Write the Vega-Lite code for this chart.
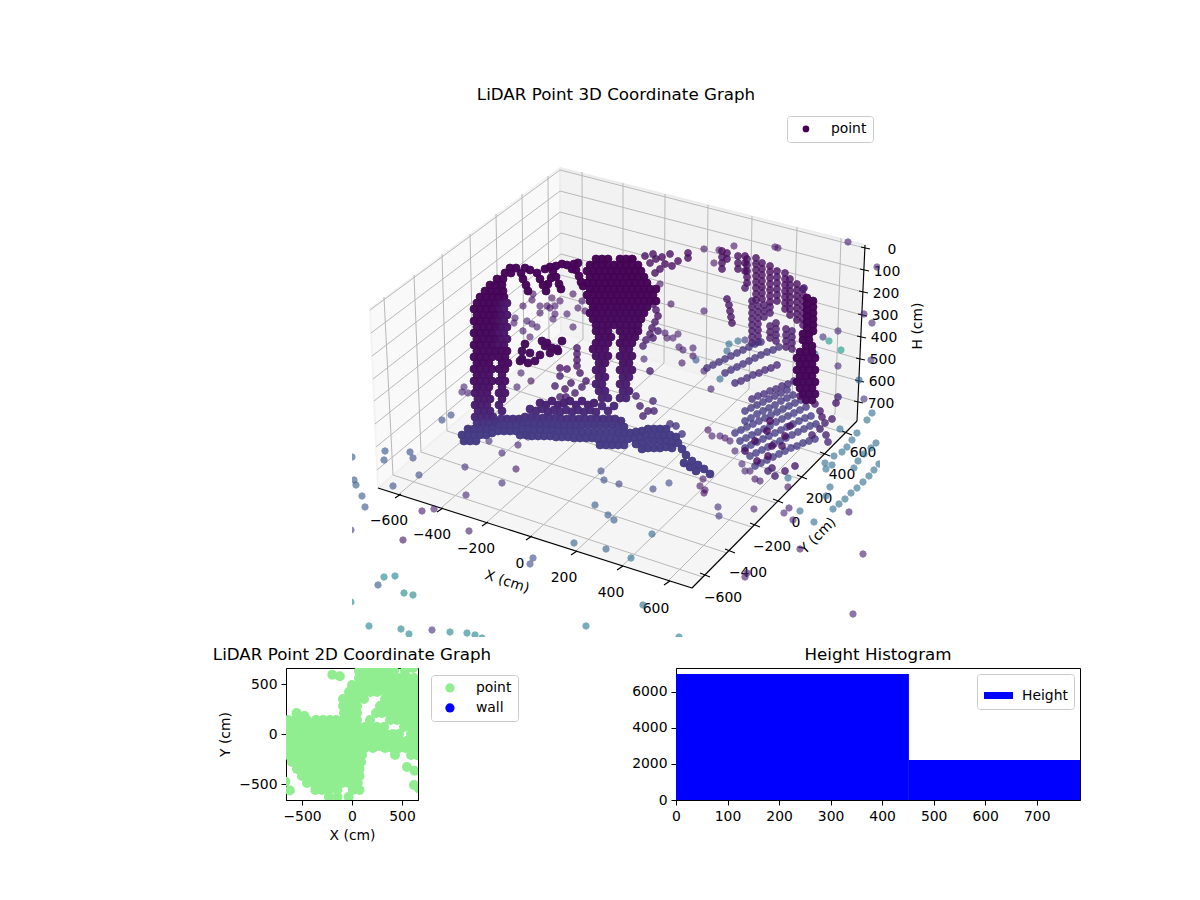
{"$schema":"https://vega.github.io/schema/vega-lite/v6.json","padding":{"left":212,"top":87,"right":5,"bottom":5},"spacing":9,"config":{"font":"DejaVu Sans","view":{"stroke":null},"axis":{"grid":false,"domainColor":"black","tickColor":"black","labelColor":"black","titleColor":"black","labelFontSize":13.9,"titleFontSize":13.9,"titleFontWeight":"normal","tickSize":5,"labelPadding":4,"titlePadding":6,"labelFlush":false},"legend":{"labelFontSize":13.9,"fillColor":"white","strokeColor":"#cccccc","cornerRadius":3,"padding":6,"title":null},"title":{"fontSize":16.7,"fontWeight":"normal","color":"black"}},
"vconcat":[{"bounds":"flush","spacing":0,"resolve":{"scale":{"shape":"independent"},"legend":{"shape":"independent"}},"hconcat":[{"width":66,"height":528,"data":{"values":[{"s":1}]},"mark":{"type":"point","opacity":0},"encoding":{}},
{"width":528,"height":528,"title":{"text":"LiDAR Point 3D Coordinate Graph","offset":5},
"encoding":{"x":{"field":"x","type":"quantitative","scale":{"domain":[352,880],"nice":false,"zero":false},"axis":null},"y":{"field":"y","type":"quantitative","scale":{"domain":[636,108],"nice":false,"zero":false},"axis":null}},
"layer":[
{"data":{"values":[{"o":0,"x":370,"y":308},{"o":1,"x":560,"y":167},{"o":2,"x":561,"y":332},{"o":3,"x":378,"y":487},{"o":4,"x":370,"y":308}]},"mark":{"type":"line","fill":"#f9f9f9","stroke":"#f3f3f3"},"encoding":{"order":{"field":"o","type":"quantitative"}}},
{"data":{"values":[{"o":0,"x":560,"y":167},{"o":1,"x":865,"y":244},{"o":2,"x":857,"y":420},{"o":3,"x":561,"y":332},{"o":4,"x":560,"y":167}]},"mark":{"type":"line","fill":"#f2f2f2","stroke":"#ececec"},"encoding":{"order":{"field":"o","type":"quantitative"}}},
{"data":{"values":[{"o":0,"x":378,"y":487},{"o":1,"x":561,"y":332},{"o":2,"x":857,"y":420},{"o":3,"x":692,"y":587},{"o":4,"x":378,"y":487}]},"mark":{"type":"line","fill":"#f5f5f5","stroke":"#f0f0f0"},"encoding":{"order":{"field":"o","type":"quantitative"}}},
{"data":{"values":[{"x":370,"y":309,"x2":560,"y2":169},{"x":371,"y":332,"x2":560,"y2":190},{"x":372,"y":355,"x2":560,"y2":211},{"x":373,"y":378,"x2":561,"y2":232},{"x":374,"y":400,"x2":561,"y2":253},{"x":375,"y":423,"x2":561,"y2":274},{"x":376,"y":446,"x2":561,"y2":295},{"x":377,"y":469,"x2":561,"y2":316},
{"x":560,"y":169,"x2":865,"y2":247},{"x":560,"y":190,"x2":864,"y2":269},{"x":560,"y":211,"x2":863,"y2":291},{"x":561,"y":232,"x2":862,"y2":314},{"x":561,"y":253,"x2":861,"y2":336},{"x":561,"y":274,"x2":860,"y2":358},{"x":561,"y":295,"x2":859,"y2":380},{"x":561,"y":316,"x2":858,"y2":401},
{"x":384,"y":296,"x2":393,"y2":474},{"x":414,"y":274,"x2":421,"y2":451},{"x":442,"y":253,"x2":447,"y2":430},{"x":470,"y":233,"x2":474,"y2":405},{"x":496,"y":213,"x2":499,"y2":384},{"x":522,"y":193,"x2":524,"y2":363},{"x":548,"y":175,"x2":549,"y2":341},
{"x":582,"y":171,"x2":583,"y2":338},{"x":623,"y":182,"x2":623,"y2":350},{"x":665,"y":193,"x2":664,"y2":362},{"x":708,"y":204,"x2":706,"y2":375},{"x":752,"y":215,"x2":749,"y2":388},{"x":797,"y":226,"x2":792,"y2":401},{"x":841,"y":237,"x2":835,"y2":413},
{"x":393,"y":474,"x2":703,"y2":576},{"x":421,"y":451,"x2":727,"y2":552},{"x":447,"y":430,"x2":752,"y2":526},{"x":474,"y":405,"x2":776,"y2":502},{"x":499,"y":384,"x2":800,"y2":478},{"x":524,"y":363,"x2":823,"y2":454},{"x":549,"y":341,"x2":845,"y2":432},
{"x":583,"y":338,"x2":398,"y2":494},{"x":623,"y":350,"x2":441,"y2":507},{"x":664,"y":362,"x2":486,"y2":522},{"x":706,"y":375,"x2":530,"y2":536},{"x":749,"y":388,"x2":575,"y2":551},{"x":792,"y":401,"x2":621,"y2":566},{"x":835,"y":413,"x2":667,"y2":581}]},"mark":{"type":"rule","color":"#b8b8b8","strokeWidth":1},"encoding":{"x2":{"field":"x2"},"y2":{"field":"y2"}}},
{"data":{"values":[{"x":378,"y":487,"x2":692,"y2":587},{"x":692,"y":587,"x2":857,"y2":420},{"x":857,"y":420,"x2":865,"y2":244},
{"x":395,"y":497,"x2":401,"y2":493},{"x":437,"y":511,"x2":443,"y2":507},{"x":482,"y":525,"x2":488,"y2":521},{"x":526,"y":539,"x2":532,"y2":535},{"x":571,"y":554,"x2":577,"y2":550},{"x":617,"y":569,"x2":623,"y2":565},{"x":664,"y":584,"x2":670,"y2":580},
{"x":700,"y":572,"x2":710,"y2":576},{"x":725,"y":548,"x2":735,"y2":552},{"x":750,"y":522,"x2":760,"y2":526},{"x":773,"y":498,"x2":783,"y2":502},{"x":797,"y":474,"x2":807,"y2":478},{"x":820,"y":451,"x2":830,"y2":455},{"x":842,"y":430,"x2":852,"y2":434},
{"x":861,"y":246,"x2":870,"y2":248},{"x":860,"y":268,"x2":869,"y2":270},{"x":859,"y":290,"x2":868,"y2":292},{"x":858,"y":313,"x2":867,"y2":315},{"x":857,"y":335,"x2":866,"y2":337},{"x":856,"y":357,"x2":865,"y2":359},{"x":855,"y":379,"x2":864,"y2":381},{"x":854,"y":400,"x2":863,"y2":402}]},"mark":{"type":"rule","color":"black","strokeWidth":1.1},"encoding":{"x2":{"field":"x2"},"y2":{"field":"y2"}}},
{"data":{"values":[{"x":389,"y":520,"t":"−600"},{"x":432,"y":534,"t":"−400"},{"x":476,"y":548,"t":"−200"},{"x":520,"y":563,"t":"0"},{"x":564,"y":577,"t":"200"},{"x":611,"y":592,"t":"400"},{"x":656,"y":608,"t":"600"},{"x":723,"y":597,"t":"−600"},{"x":748,"y":572,"t":"−400"},{"x":772,"y":546,"t":"−200"},{"x":796,"y":522,"t":"0"},{"x":819,"y":498,"t":"200"},{"x":842,"y":474,"t":"400"},{"x":863,"y":452,"t":"600"},{"x":892,"y":249,"t":"0"},{"x":887,"y":271,"t":"100"},{"x":886,"y":293,"t":"200"},{"x":885,"y":315,"t":"300"},{"x":884,"y":337,"t":"400"},{"x":883,"y":359,"t":"500"},{"x":882,"y":381,"t":"600"},{"x":881,"y":403,"t":"700"},{"x":507,"y":581,"t":"X (cm)","a":18},{"x":818,"y":535,"t":"Y (cm)","a":-45},{"x":918,"y":325,"t":"H (cm)","a":-90}]},"mark":{"type":"text","fontSize":13.9,"color":"black","baseline":"middle","align":"center"},"encoding":{"text":{"field":"t"},"angle":{"field":"a","type":"quantitative","scale":null}}},
{"data":{"values":[{"x":352,"y":456,"h":1000},{"x":354,"y":479,"h":1000},{"x":356,"y":484,"h":1000},{"x":362,"y":495,"h":1000},{"x":365,"y":506,"h":900},{"x":385,"y":450,"h":900},{"x":384,"y":459,"h":900},{"x":410,"y":451,"h":800},{"x":413,"y":457,"h":800},{"x":419,"y":474,"h":800},{"x":393,"y":485,"h":800},{"x":442,"y":419,"h":800},{"x":451,"y":414,"h":800},{"x":465,"y":466,"h":500},{"x":502,"y":452,"h":400},{"x":516,"y":468,"h":200},{"x":502,"y":482,"h":500},{"x":466,"y":494,"h":400},{"x":422,"y":510,"h":250},{"x":434,"y":508,"h":300},{"x":469,"y":530,"h":300},{"x":403,"y":539,"h":200},{"x":351,"y":529,"h":600},{"x":533,"y":557,"h":800},{"x":530,"y":563,"h":800},{"x":378,"y":584,"h":900},{"x":384,"y":576,"h":1600},{"x":395,"y":575,"h":1600},{"x":404,"y":592,"h":1600},{"x":413,"y":594,"h":1600},{"x":351,"y":601,"h":1600},{"x":369,"y":625,"h":1600},{"x":401,"y":628,"h":1600},{"x":409,"y":633,"h":1600},{"x":432,"y":629,"h":500},{"x":450,"y":631,"h":1600},{"x":467,"y":632,"h":1600},{"x":475,"y":634,"h":1600},{"x":482,"y":637,"h":1600},{"x":586,"y":625,"h":1400},{"x":518,"y":444,"h":300},{"x":528,"y":436,"h":300},{"x":489,"y":440,"h":500},{"x":595,"y":504,"h":1000},{"x":608,"y":514,"h":1000},{"x":614,"y":519,"h":1000},{"x":604,"y":479,"h":800},{"x":601,"y":470,"h":800},{"x":574,"y":542,"h":1100},{"x":606,"y":548,"h":1100},{"x":619,"y":483,"h":700},{"x":653,"y":488,"h":700},{"x":669,"y":482,"h":800},{"x":703,"y":478,"h":200},{"x":700,"y":485,"h":200},{"x":705,"y":489,"h":200},{"x":704,"y":492,"h":150},{"x":718,"y":506,"h":500},{"x":719,"y":515,"h":600},{"x":754,"y":508,"h":300},{"x":652,"y":533,"h":1200},{"x":631,"y":557,"h":1300},{"x":643,"y":604,"h":1300},{"x":679,"y":636,"h":1500},{"x":853,"y":613,"h":300},{"x":863,"y":553,"h":300},{"x":849,"y":511,"h":300},{"x":745,"y":576,"h":250},{"x":747,"y":572,"h":250},{"x":800,"y":548,"h":300},{"x":784,"y":512,"h":400},{"x":789,"y":507,"h":300},{"x":793,"y":519,"h":400},{"x":800,"y":510,"h":1250},{"x":814,"y":521,"h":1250},{"x":833,"y":508,"h":1250},{"x":839,"y":503,"h":1250},{"x":845,"y":498,"h":1250},{"x":851,"y":492,"h":1250},{"x":857,"y":487,"h":1250},{"x":863,"y":481,"h":1250},{"x":869,"y":475,"h":1250},{"x":874,"y":469,"h":1250},{"x":879,"y":463,"h":1250},{"x":825,"y":462,"h":1250},{"x":832,"y":464,"h":1250},{"x":826,"y":468,"h":1250},{"x":834,"y":455,"h":1250},{"x":842,"y":451,"h":1250},{"x":847,"y":446,"h":1250},{"x":852,"y":439,"h":1250},{"x":857,"y":432,"h":1250},{"x":876,"y":442,"h":1250},{"x":871,"y":447,"h":1250},{"x":864,"y":453,"h":1250},{"x":858,"y":460,"h":1250},{"x":854,"y":467,"h":1250},{"x":840,"y":428,"h":1250},{"x":830,"y":486,"h":1250},{"x":826,"y":495,"h":1250},{"x":788,"y":477,"h":1250},{"x":872,"y":412,"h":1250},{"x":867,"y":419,"h":1250},{"x":788,"y":486,"h":200},
{"x":848,"y":241,"h":300},{"x":877,"y":266,"h":400},{"x":864,"y":313,"h":400},{"x":872,"y":322,"h":400},{"x":823,"y":336,"h":500},{"x":829,"y":340,"h":1900},{"x":841,"y":349,"h":1900},{"x":838,"y":330,"h":400},{"x":838,"y":365,"h":400},{"x":871,"y":359,"h":600},{"x":859,"y":379,"h":1100},{"x":864,"y":398,"h":500},{"x":815,"y":353,"h":1700},{"x":704,"y":248,"h":200},{"x":719,"y":249,"h":200},{"x":734,"y":245,"h":200},{"x":775,"y":246,"h":200},{"x":778,"y":247,"h":200},{"x":714,"y":262,"h":200},{"x":671,"y":303,"h":150},{"x":704,"y":310,"h":250},{"x":660,"y":283,"h":200},{"x":682,"y":362,"h":200},{"x":644,"y":358,"h":300},{"x":693,"y":347,"h":300},{"x":683,"y":349,"h":300},{"x":679,"y":346,"h":300},{"x":693,"y":355,"h":200},{"x":696,"y":359,"h":900},{"x":704,"y":370,"h":300},{"x":711,"y":388,"h":300},{"x":729,"y":343,"h":1250},{"x":738,"y":340,"h":1250},{"x":745,"y":339,"h":500},{"x":727,"y":350,"h":1100},{"x":720,"y":378,"h":1200},{"x":665,"y":332,"h":250},{"x":667,"y":337,"h":250},{"x":673,"y":337,"h":250},{"x":678,"y":333,"h":250},
{"x":523,"y":305,"h":200},{"x":540,"y":305,"h":200},{"x":550,"y":307,"h":200},{"x":555,"y":313,"h":200},{"x":567,"y":313,"h":250},{"x":515,"y":317,"h":250},{"x":514,"y":322,"h":250},{"x":527,"y":320,"h":250},{"x":532,"y":323,"h":250},{"x":537,"y":326,"h":250},{"x":523,"y":330,"h":250},{"x":530,"y":336,"h":250},{"x":573,"y":326,"h":250},{"x":595,"y":308,"h":250},{"x":596,"y":317,"h":250},{"x":553,"y":318,"h":250},{"x":540,"y":312,"h":200},{"x":552,"y":297,"h":200},{"x":560,"y":300,"h":200},{"x":573,"y":293,"h":200},{"x":582,"y":300,"h":200},{"x":578,"y":307,"h":200},{"x":585,"y":310,"h":200},{"x":533,"y":293,"h":150},{"x":532,"y":299,"h":150},{"x":555,"y":305,"h":200},{"x":547,"y":305,"h":200},{"x":521,"y":372,"h":300},{"x":531,"y":380,"h":100},{"x":517,"y":386,"h":300},{"x":464,"y":386,"h":400},{"x":462,"y":391,"h":400},{"x":468,"y":392,"h":400},{"x":708,"y":429,"h":200},{"x":712,"y":435,"h":300},{"x":720,"y":435,"h":300},{"x":725,"y":437,"h":200},{"x":730,"y":440,"h":300},{"x":735,"y":450,"h":350},{"x":742,"y":463,"h":400},{"x":750,"y":470,"h":300},{"x":755,"y":478,"h":200},{"x":760,"y":480,"h":250},{"x":745,"y":470,"h":400}]},"mark":{"type":"point","filled":true,"size":40,"opacity":0.62,"clip":true},"encoding":{"fill":{"field":"h","type":"quantitative","scale":{"scheme":"viridis","domain":[0,3500]},"legend":null},"stroke":{"field":"h","type":"quantitative","scale":{"scheme":"viridis","domain":[0,3500]},"legend":null},"strokeWidth":{"value":1}}},
{"data":{"values":[{"x":653,"y":253,"h":100},{"x":645,"y":255,"h":100},{"x":670,"y":253,"h":100},{"x":688,"y":252,"h":100},{"x":688,"y":257,"h":100},{"x":678,"y":260,"h":100},{"x":672,"y":265,"h":100},{"x":633,"y":258,"h":100},{"x":665,"y":263,"h":100},{"x":660,"y":268,"h":100},{"x":655,"y":272,"h":100},{"x":650,"y":262,"h":100},{"x":656,"y":258,"h":100},{"x":662,"y":256,"h":100},
{"x":560,"y":367,"h":200},{"x":567,"y":368,"h":200},{"x":560,"y":375,"h":300},{"x":577,"y":347,"h":200},{"x":577,"y":353,"h":200},{"x":577,"y":359,"h":200},{"x":577,"y":365,"h":200},{"x":580,"y":372,"h":200},{"x":571,"y":382,"h":200},{"x":565,"y":388,"h":200},{"x":560,"y":396,"h":300},{"x":555,"y":385,"h":300},{"x":566,"y":396,"h":200},{"x":575,"y":392,"h":300},{"x":582,"y":386,"h":300},{"x":586,"y":380,"h":200},
{"x":722,"y":250,"h":100},{"x":722,"y":256,"h":100},{"x":722,"y":262,"h":100},{"x":722,"y":268,"h":100},{"x":727,"y":252,"h":100},{"x":727,"y":258,"h":100},{"x":738,"y":255,"h":100},{"x":738,"y":262,"h":100},{"x":738,"y":268,"h":100},{"x":745,"y":255,"h":100},{"x":745,"y":262,"h":100},{"x":745,"y":270,"h":100},{"x":747,"y":258,"h":100},{"x":747,"y":264,"h":100},{"x":747,"y":270,"h":100},{"x":747,"y":276,"h":100},{"x":747,"y":282,"h":100},{"x":745,"y":287,"h":200},
{"x":756,"y":257,"h":100},{"x":756,"y":263,"h":100},{"x":756,"y":269,"h":100},{"x":756,"y":275,"h":100},{"x":756,"y":281,"h":100},{"x":756,"y":287,"h":100},{"x":756,"y":293,"h":100},{"x":756,"y":299,"h":100},{"x":762,"y":262,"h":100},{"x":762,"y":268,"h":100},{"x":762,"y":274,"h":100},{"x":762,"y":280,"h":100},{"x":762,"y":286,"h":100},{"x":762,"y":292,"h":100},{"x":762,"y":298,"h":100},{"x":770,"y":265,"h":100},{"x":770,"y":271,"h":100},{"x":770,"y":277,"h":100},{"x":770,"y":283,"h":100},{"x":770,"y":289,"h":100},{"x":770,"y":295,"h":100},{"x":770,"y":301,"h":100},{"x":777,"y":270,"h":100},{"x":777,"y":276,"h":100},{"x":777,"y":282,"h":100},{"x":777,"y":288,"h":100},{"x":777,"y":294,"h":100},{"x":777,"y":300,"h":100},{"x":785,"y":272,"h":100},{"x":785,"y":278,"h":100},{"x":785,"y":284,"h":100},{"x":785,"y":290,"h":100},{"x":785,"y":296,"h":100},{"x":785,"y":302,"h":100},{"x":785,"y":308,"h":100},{"x":790,"y":278,"h":100},{"x":790,"y":284,"h":100},{"x":790,"y":290,"h":100},{"x":790,"y":296,"h":100},{"x":790,"y":302,"h":100},{"x":790,"y":308,"h":100},{"x":790,"y":314,"h":100},{"x":797,"y":283,"h":100},{"x":797,"y":289,"h":100},{"x":797,"y":295,"h":100},{"x":797,"y":301,"h":100},{"x":797,"y":307,"h":100},{"x":797,"y":313,"h":100},{"x":797,"y":319,"h":100},{"x":803,"y":288,"h":100},{"x":803,"y":294,"h":100},{"x":803,"y":300,"h":100},{"x":803,"y":306,"h":100},{"x":803,"y":312,"h":100},{"x":803,"y":318,"h":100},{"x":803,"y":324,"h":100},{"x":804,"y":287,"h":300},
{"x":727,"y":298,"h":150},{"x":729,"y":304,"h":150},{"x":730,"y":310,"h":150},{"x":731,"y":316,"h":150},{"x":732,"y":322,"h":150},
{"x":752,"y":300,"h":200},{"x":752,"y":306,"h":200},{"x":752,"y":312,"h":200},{"x":752,"y":318,"h":200},{"x":752,"y":324,"h":200},{"x":752,"y":330,"h":200},{"x":752,"y":336,"h":200},{"x":752,"y":342,"h":200},{"x":758,"y":305,"h":200},{"x":758,"y":311,"h":200},{"x":758,"y":317,"h":200},{"x":758,"y":323,"h":200},{"x":758,"y":329,"h":200},{"x":758,"y":335,"h":200},{"x":758,"y":341,"h":200},{"x":764,"y":304,"h":200},{"x":764,"y":310,"h":200},{"x":764,"y":316,"h":200},{"x":770,"y":306,"h":200},{"x":770,"y":312,"h":200},{"x":770,"y":325,"h":200},{"x":770,"y":331,"h":200},{"x":770,"y":337,"h":200},{"x":776,"y":322,"h":200},{"x":776,"y":328,"h":200},{"x":776,"y":334,"h":200},{"x":776,"y":340,"h":200},{"x":786,"y":328,"h":200},{"x":786,"y":334,"h":200},{"x":786,"y":340,"h":200},{"x":786,"y":346,"h":200},{"x":792,"y":330,"h":200},{"x":792,"y":336,"h":200},{"x":792,"y":342,"h":200},{"x":792,"y":348,"h":200},
{"x":707,"y":367,"h":500},{"x":713,"y":364,"h":500},{"x":719,"y":361,"h":500},{"x":725,"y":358,"h":500},{"x":731,"y":355,"h":500},{"x":737,"y":352,"h":500},{"x":743,"y":349,"h":500},{"x":749,"y":346,"h":500},{"x":755,"y":343,"h":500},{"x":761,"y":341,"h":500},{"x":725,"y":372,"h":500},{"x":731,"y":369,"h":500},{"x":737,"y":366,"h":500},{"x":743,"y":363,"h":500},{"x":749,"y":360,"h":500},{"x":755,"y":357,"h":500},{"x":761,"y":354,"h":500},{"x":767,"y":351,"h":500},{"x":773,"y":349,"h":500},{"x":779,"y":346,"h":500},{"x":735,"y":382,"h":450},{"x":741,"y":380,"h":450},{"x":747,"y":377,"h":450},{"x":753,"y":374,"h":450},{"x":759,"y":372,"h":400},{"x":765,"y":369,"h":400},{"x":771,"y":367,"h":400},{"x":777,"y":364,"h":400},{"x":752,"y":398,"h":450},{"x":758,"y":395,"h":450},{"x":764,"y":393,"h":450},{"x":770,"y":390,"h":450},{"x":776,"y":388,"h":450},{"x":782,"y":385,"h":400},{"x":788,"y":383,"h":400},{"x":794,"y":380,"h":400},
{"x":745,"y":410,"h":550},{"x":751,"y":407,"h":550},{"x":757,"y":404,"h":550},{"x":763,"y":401,"h":550},{"x":769,"y":398,"h":500},{"x":775,"y":395,"h":500},{"x":781,"y":392,"h":500},{"x":787,"y":389,"h":500},{"x":745,"y":420,"h":600},{"x":751,"y":417,"h":600},{"x":757,"y":413,"h":600},{"x":763,"y":410,"h":600},{"x":769,"y":407,"h":600},{"x":775,"y":404,"h":550},{"x":781,"y":400,"h":550},{"x":787,"y":397,"h":550},{"x":793,"y":394,"h":550},{"x":735,"y":432,"h":600},{"x":741,"y":429,"h":600},{"x":747,"y":426,"h":600},{"x":753,"y":423,"h":600},{"x":759,"y":420,"h":600},{"x":765,"y":417,"h":600},{"x":771,"y":414,"h":600},{"x":777,"y":411,"h":600},{"x":783,"y":408,"h":600},{"x":789,"y":405,"h":600},{"x":795,"y":402,"h":550},{"x":801,"y":399,"h":550},{"x":740,"y":440,"h":600},{"x":746,"y":437,"h":600},{"x":752,"y":434,"h":600},{"x":758,"y":431,"h":600},{"x":764,"y":428,"h":600},{"x":770,"y":425,"h":600},{"x":776,"y":421,"h":600},{"x":782,"y":418,"h":600},{"x":788,"y":415,"h":600},{"x":794,"y":412,"h":600},{"x":800,"y":409,"h":600},{"x":806,"y":406,"h":550},{"x":745,"y":447,"h":600},{"x":751,"y":444,"h":600},{"x":757,"y":441,"h":600},{"x":763,"y":438,"h":600},{"x":769,"y":435,"h":600},{"x":775,"y":432,"h":600},{"x":781,"y":429,"h":600},{"x":787,"y":426,"h":600},{"x":793,"y":423,"h":600},{"x":799,"y":420,"h":600},{"x":805,"y":417,"h":600},{"x":811,"y":415,"h":600},{"x":750,"y":455,"h":600},{"x":756,"y":452,"h":600},{"x":762,"y":449,"h":600},{"x":768,"y":446,"h":600},{"x":774,"y":443,"h":600},{"x":780,"y":440,"h":600},{"x":786,"y":437,"h":600},{"x":792,"y":434,"h":600},{"x":798,"y":431,"h":600},{"x":804,"y":428,"h":600},{"x":810,"y":425,"h":600},{"x":816,"y":423,"h":600},{"x":755,"y":465,"h":600},{"x":761,"y":462,"h":600},{"x":767,"y":459,"h":600},{"x":773,"y":456,"h":600},{"x":779,"y":453,"h":600},{"x":785,"y":450,"h":600},{"x":791,"y":447,"h":600},{"x":797,"y":445,"h":600},{"x":803,"y":442,"h":600},{"x":809,"y":440,"h":600},{"x":815,"y":438,"h":600},
{"x":745,"y":450,"h":100},{"x":757,"y":460,"h":100},{"x":772,"y":445,"h":100},{"x":768,"y":455,"h":100},{"x":785,"y":435,"h":100},{"x":790,"y":425,"h":100},{"x":767,"y":430,"h":100},{"x":770,"y":420,"h":100},{"x":755,"y":440,"h":100},{"x":782,"y":445,"h":150},{"x":800,"y":395,"h":100},{"x":768,"y":470,"h":300},{"x":775,"y":475,"h":300},{"x":785,"y":470,"h":200},{"x":795,"y":465,"h":200},{"x":772,"y":467,"h":300},{"x":815,"y":403,"h":200},{"x":820,"y":410,"h":200},{"x":822,"y":416,"h":200},{"x":825,"y":422,"h":300},{"x":820,"y":428,"h":300},{"x":826,"y":434,"h":300},{"x":828,"y":441,"h":400},{"x":812,"y":434,"h":300},{"x":832,"y":418,"h":300},{"x":836,"y":402,"h":200},{"x":838,"y":396,"h":400},
{"x":648,"y":410,"h":300},{"x":640,"y":405,"h":300},{"x":654,"y":410,"h":300},{"x":636,"y":395,"h":300},{"x":670,"y":423,"h":500},{"x":676,"y":425,"h":500},{"x":682,"y":433,"h":500},{"x":653,"y":400,"h":400},{"x":643,"y":415,"h":300},{"x":650,"y":370,"h":300},{"x":653,"y":303,"h":150},{"x":656,"y":309,"h":150},{"x":658,"y":315,"h":150},{"x":655,"y":321,"h":200},{"x":652,"y":327,"h":200},{"x":650,"y":333,"h":250},{"x":646,"y":339,"h":250},{"x":643,"y":345,"h":300},{"x":658,"y":330,"h":250},{"x":653,"y":337,"h":250}]},"mark":{"type":"point","filled":true,"size":46,"opacity":0.78,"clip":true},"encoding":{"fill":{"field":"h","type":"quantitative","scale":{"scheme":"viridis","domain":[0,3500]},"legend":null},"stroke":{"field":"h","type":"quantitative","scale":{"scheme":"viridis","domain":[0,3500]},"legend":null},"strokeWidth":{"value":1}}},
{"data":{"values":[{"x":510,"y":267,"h":30},{"x":516,"y":267,"h":30},{"x":505,"y":272,"h":30},{"x":511,"y":272,"h":30},{"x":497,"y":278,"h":30},{"x":503,"y":278,"h":30},{"x":490,"y":284,"h":30},{"x":496,"y":284,"h":30},{"x":502,"y":284,"h":30},{"x":485,"y":290,"h":30},{"x":491,"y":290,"h":30},{"x":497,"y":290,"h":30},{"x":503,"y":290,"h":30},{"x":480,"y":296,"h":30},{"x":486,"y":296,"h":30},{"x":492,"y":296,"h":30},{"x":498,"y":296,"h":30},{"x":504,"y":296,"h":30},
{"x":477,"y":302,"h":40},{"x":483,"y":302,"h":40},{"x":489,"y":302,"h":40},{"x":495,"y":302,"h":40},{"x":501,"y":302,"h":100},{"x":507,"y":302,"h":200},{"x":474,"y":308,"h":40},{"x":480,"y":308,"h":40},{"x":486,"y":308,"h":40},{"x":492,"y":308,"h":40},{"x":498,"y":308,"h":100},{"x":504,"y":308,"h":200},{"x":477,"y":314,"h":40},{"x":483,"y":314,"h":40},{"x":489,"y":314,"h":40},{"x":495,"y":314,"h":40},{"x":501,"y":314,"h":120},{"x":507,"y":314,"h":200},{"x":474,"y":320,"h":40},{"x":480,"y":320,"h":40},{"x":486,"y":320,"h":40},{"x":492,"y":320,"h":40},{"x":498,"y":320,"h":120},{"x":504,"y":320,"h":200},{"x":477,"y":326,"h":50},{"x":483,"y":326,"h":50},{"x":489,"y":326,"h":50},{"x":495,"y":326,"h":50},{"x":501,"y":326,"h":150},{"x":507,"y":326,"h":200},{"x":474,"y":332,"h":50},{"x":480,"y":332,"h":50},{"x":486,"y":332,"h":50},{"x":492,"y":332,"h":50},{"x":498,"y":332,"h":150},{"x":504,"y":332,"h":200},{"x":477,"y":338,"h":60},{"x":483,"y":338,"h":60},{"x":489,"y":338,"h":60},{"x":495,"y":338,"h":60},{"x":501,"y":338,"h":150},{"x":507,"y":338,"h":200},{"x":474,"y":344,"h":60},{"x":480,"y":344,"h":60},{"x":486,"y":344,"h":60},{"x":492,"y":344,"h":60},{"x":498,"y":344,"h":150},{"x":504,"y":344,"h":150},{"x":477,"y":350,"h":70},{"x":483,"y":350,"h":70},{"x":489,"y":350,"h":70},{"x":495,"y":350,"h":70},{"x":501,"y":350,"h":70},{"x":507,"y":350,"h":70},
{"x":474,"y":356,"h":80},{"x":480,"y":356,"h":80},{"x":486,"y":356,"h":80},{"x":492,"y":356,"h":80},{"x":499,"y":356,"h":80},{"x":505,"y":356,"h":80},{"x":477,"y":362,"h":80},{"x":483,"y":362,"h":80},{"x":489,"y":362,"h":80},{"x":502,"y":362,"h":80},{"x":508,"y":362,"h":80},{"x":474,"y":368,"h":100},{"x":480,"y":368,"h":100},{"x":486,"y":368,"h":100},{"x":492,"y":368,"h":100},{"x":499,"y":368,"h":100},{"x":505,"y":368,"h":100},{"x":477,"y":374,"h":120},{"x":483,"y":374,"h":120},{"x":489,"y":374,"h":120},{"x":502,"y":374,"h":120},{"x":474,"y":380,"h":140},{"x":480,"y":380,"h":140},{"x":486,"y":380,"h":140},{"x":492,"y":380,"h":140},{"x":499,"y":380,"h":140},{"x":505,"y":380,"h":140},{"x":477,"y":386,"h":160},{"x":483,"y":386,"h":160},{"x":489,"y":386,"h":160},{"x":502,"y":386,"h":160},{"x":475,"y":392,"h":180},{"x":481,"y":392,"h":180},{"x":487,"y":392,"h":180},{"x":499,"y":392,"h":180},{"x":505,"y":392,"h":180},{"x":478,"y":398,"h":220},{"x":484,"y":398,"h":220},{"x":490,"y":398,"h":220},{"x":502,"y":398,"h":220},{"x":475,"y":404,"h":260},{"x":481,"y":404,"h":260},{"x":487,"y":404,"h":260},{"x":499,"y":404,"h":260},{"x":478,"y":410,"h":300},{"x":484,"y":410,"h":300},{"x":490,"y":410,"h":300},{"x":502,"y":410,"h":300},{"x":475,"y":416,"h":350},{"x":481,"y":416,"h":350},{"x":487,"y":416,"h":350},{"x":493,"y":416,"h":350},
{"x":525,"y":267,"h":30},{"x":530,"y":269,"h":30},{"x":545,"y":268,"h":30},{"x":550,"y":266,"h":30},{"x":556,"y":265,"h":30},{"x":562,"y":263,"h":30},{"x":567,"y":264,"h":30},{"x":521,"y":272,"h":30},{"x":523,"y":278,"h":30},{"x":526,"y":284,"h":30},{"x":528,"y":290,"h":30},{"x":537,"y":272,"h":30},{"x":540,"y":278,"h":30},{"x":543,"y":284,"h":30},{"x":546,"y":290,"h":30},{"x":553,"y":270,"h":30},{"x":556,"y":276,"h":30},{"x":559,"y":283,"h":30},{"x":561,"y":288,"h":30},{"x":551,"y":277,"h":30},{"x":548,"y":283,"h":30},{"x":574,"y":263,"h":30},{"x":576,"y":269,"h":30},{"x":579,"y":275,"h":30},{"x":581,"y":281,"h":30},{"x":572,"y":268,"h":30},{"x":578,"y":262,"h":30},{"x":583,"y":285,"h":30},
{"x":542,"y":340,"h":80},{"x":547,"y":342,"h":80},{"x":552,"y":347,"h":80},{"x":558,"y":350,"h":80},{"x":562,"y":340,"h":80},{"x":557,"y":348,"h":80},{"x":545,"y":345,"h":80},{"x":550,"y":352,"h":80},{"x":525,"y":343,"h":80},{"x":522,"y":350,"h":80},{"x":522,"y":358,"h":80},{"x":528,"y":362,"h":80},{"x":535,"y":360,"h":80},{"x":540,"y":354,"h":80},{"x":530,"y":352,"h":80},{"x":520,"y":360,"h":80},
{"x":596,"y":258,"h":20},{"x":602,"y":258,"h":20},{"x":608,"y":258,"h":20},{"x":620,"y":258,"h":20},{"x":626,"y":258,"h":20},{"x":632,"y":258,"h":20},{"x":590,"y":264,"h":20},{"x":596,"y":264,"h":20},{"x":602,"y":264,"h":20},{"x":608,"y":264,"h":20},{"x":614,"y":264,"h":20},{"x":620,"y":264,"h":20},{"x":626,"y":264,"h":20},{"x":632,"y":264,"h":20},{"x":638,"y":264,"h":20},{"x":587,"y":270,"h":20},{"x":593,"y":270,"h":20},{"x":599,"y":270,"h":20},{"x":605,"y":270,"h":20},{"x":611,"y":270,"h":20},{"x":617,"y":270,"h":20},{"x":623,"y":270,"h":20},{"x":629,"y":270,"h":20},{"x":635,"y":270,"h":20},{"x":641,"y":270,"h":20},{"x":590,"y":276,"h":20},{"x":596,"y":276,"h":20},{"x":602,"y":276,"h":20},{"x":608,"y":276,"h":20},{"x":614,"y":276,"h":20},{"x":620,"y":276,"h":20},{"x":626,"y":276,"h":20},{"x":632,"y":276,"h":20},{"x":638,"y":276,"h":20},{"x":644,"y":276,"h":20},{"x":587,"y":282,"h":20},{"x":593,"y":282,"h":20},{"x":599,"y":282,"h":20},{"x":605,"y":282,"h":20},{"x":611,"y":282,"h":20},{"x":617,"y":282,"h":20},{"x":623,"y":282,"h":20},{"x":629,"y":282,"h":20},{"x":635,"y":282,"h":20},{"x":641,"y":282,"h":20},{"x":647,"y":282,"h":20},{"x":590,"y":288,"h":20},{"x":596,"y":288,"h":20},{"x":602,"y":288,"h":20},{"x":608,"y":288,"h":20},{"x":614,"y":288,"h":20},{"x":620,"y":288,"h":20},{"x":626,"y":288,"h":20},{"x":632,"y":288,"h":20},{"x":638,"y":288,"h":20},{"x":644,"y":288,"h":20},{"x":650,"y":288,"h":20},{"x":656,"y":288,"h":20},{"x":587,"y":294,"h":30},{"x":593,"y":294,"h":30},{"x":599,"y":294,"h":30},{"x":605,"y":294,"h":30},{"x":611,"y":294,"h":30},{"x":617,"y":294,"h":30},{"x":623,"y":294,"h":30},{"x":629,"y":294,"h":30},{"x":635,"y":294,"h":30},{"x":641,"y":294,"h":30},{"x":647,"y":294,"h":30},{"x":653,"y":294,"h":30},{"x":590,"y":300,"h":30},{"x":596,"y":300,"h":30},{"x":602,"y":300,"h":30},{"x":608,"y":300,"h":30},{"x":614,"y":300,"h":30},{"x":620,"y":300,"h":30},{"x":626,"y":300,"h":30},{"x":632,"y":300,"h":30},{"x":638,"y":300,"h":30},{"x":644,"y":300,"h":30},{"x":650,"y":300,"h":30},{"x":656,"y":300,"h":30},{"x":593,"y":306,"h":40},{"x":599,"y":306,"h":40},{"x":605,"y":306,"h":40},{"x":611,"y":306,"h":40},{"x":617,"y":306,"h":40},{"x":623,"y":306,"h":40},{"x":629,"y":306,"h":40},{"x":635,"y":306,"h":40},{"x":641,"y":306,"h":40},{"x":647,"y":306,"h":40},{"x":590,"y":312,"h":50},{"x":596,"y":312,"h":50},{"x":602,"y":312,"h":50},{"x":608,"y":312,"h":50},{"x":614,"y":312,"h":50},{"x":620,"y":312,"h":50},{"x":626,"y":312,"h":50},{"x":632,"y":312,"h":50},{"x":638,"y":312,"h":50},{"x":644,"y":312,"h":50},{"x":593,"y":318,"h":60},{"x":599,"y":318,"h":60},{"x":605,"y":318,"h":60},{"x":611,"y":318,"h":60},{"x":617,"y":318,"h":60},{"x":623,"y":318,"h":60},{"x":629,"y":318,"h":60},{"x":635,"y":318,"h":60},{"x":641,"y":318,"h":60},{"x":596,"y":324,"h":70},{"x":602,"y":324,"h":70},{"x":608,"y":324,"h":70},{"x":614,"y":324,"h":70},{"x":620,"y":324,"h":70},{"x":626,"y":324,"h":70},{"x":632,"y":324,"h":70},{"x":638,"y":324,"h":70},{"x":596,"y":330,"h":80},{"x":602,"y":330,"h":80},{"x":608,"y":330,"h":80},{"x":620,"y":330,"h":80},{"x":626,"y":330,"h":80},{"x":632,"y":330,"h":80},{"x":638,"y":330,"h":80},{"x":599,"y":336,"h":90},{"x":605,"y":336,"h":90},{"x":611,"y":336,"h":90},{"x":623,"y":336,"h":90},{"x":629,"y":336,"h":90},{"x":635,"y":336,"h":90},{"x":596,"y":342,"h":100},{"x":602,"y":342,"h":100},{"x":608,"y":342,"h":100},{"x":620,"y":342,"h":100},{"x":626,"y":342,"h":100},{"x":632,"y":342,"h":100},{"x":593,"y":348,"h":120},{"x":599,"y":348,"h":120},{"x":605,"y":348,"h":120},{"x":623,"y":348,"h":120},{"x":629,"y":348,"h":120},{"x":596,"y":355,"h":140},{"x":602,"y":355,"h":140},{"x":608,"y":355,"h":140},{"x":620,"y":355,"h":140},{"x":626,"y":355,"h":140},{"x":632,"y":355,"h":140},{"x":599,"y":362,"h":160},{"x":605,"y":362,"h":160},{"x":623,"y":362,"h":160},{"x":629,"y":362,"h":160},{"x":596,"y":369,"h":180},{"x":602,"y":369,"h":180},{"x":620,"y":369,"h":180},{"x":626,"y":369,"h":180},{"x":632,"y":369,"h":180},{"x":599,"y":376,"h":220},{"x":605,"y":376,"h":220},{"x":623,"y":376,"h":220},{"x":629,"y":376,"h":220},{"x":596,"y":383,"h":260},{"x":602,"y":383,"h":260},{"x":620,"y":383,"h":260},{"x":626,"y":383,"h":260},{"x":599,"y":390,"h":300},{"x":605,"y":390,"h":300},{"x":623,"y":390,"h":300},{"x":629,"y":390,"h":300},{"x":602,"y":397,"h":350},{"x":608,"y":397,"h":350},{"x":620,"y":397,"h":350},{"x":626,"y":397,"h":350},
{"x":540,"y":402,"h":300},{"x":546,"y":404,"h":300},{"x":552,"y":400,"h":300},{"x":558,"y":404,"h":300},{"x":564,"y":402,"h":300},{"x":570,"y":400,"h":300},{"x":576,"y":404,"h":300},{"x":582,"y":400,"h":300},{"x":588,"y":404,"h":300},{"x":594,"y":402,"h":300},{"x":530,"y":408,"h":400},{"x":536,"y":410,"h":400},{"x":542,"y":408,"h":400},{"x":548,"y":411,"h":400},{"x":554,"y":409,"h":400},{"x":560,"y":411,"h":400},{"x":566,"y":409,"h":400},{"x":572,"y":411,"h":400},{"x":578,"y":409,"h":400},{"x":584,"y":411,"h":400},{"x":590,"y":409,"h":400},{"x":596,"y":411,"h":400},{"x":602,"y":405,"h":400},{"x":608,"y":410,"h":400},{"x":614,"y":405,"h":400},
{"x":477,"y":422,"h":480},{"x":483,"y":422,"h":480},{"x":489,"y":422,"h":480},{"x":495,"y":420,"h":480},{"x":501,"y":418,"h":480},{"x":507,"y":418,"h":480},{"x":513,"y":418,"h":480},{"x":519,"y":418,"h":480},{"x":525,"y":416,"h":480},{"x":531,"y":416,"h":480},{"x":537,"y":417,"h":480},{"x":543,"y":417,"h":480},{"x":549,"y":417,"h":480},{"x":555,"y":417,"h":480},{"x":561,"y":418,"h":480},{"x":567,"y":418,"h":480},{"x":573,"y":418,"h":480},{"x":579,"y":418,"h":480},{"x":585,"y":418,"h":480},{"x":591,"y":418,"h":480},{"x":597,"y":418,"h":480},{"x":603,"y":418,"h":480},{"x":609,"y":418,"h":480},{"x":615,"y":418,"h":480},{"x":621,"y":420,"h":480},
{"x":468,"y":428,"h":550},{"x":474,"y":428,"h":550},{"x":480,"y":428,"h":550},{"x":486,"y":428,"h":550},{"x":492,"y":426,"h":550},{"x":498,"y":424,"h":550},{"x":504,"y":424,"h":550},{"x":510,"y":424,"h":550},{"x":516,"y":424,"h":550},{"x":522,"y":422,"h":550},{"x":528,"y":422,"h":550},{"x":534,"y":423,"h":550},{"x":540,"y":423,"h":550},{"x":546,"y":423,"h":550},{"x":552,"y":423,"h":550},{"x":558,"y":424,"h":550},{"x":564,"y":424,"h":550},{"x":570,"y":424,"h":550},{"x":576,"y":424,"h":550},{"x":582,"y":424,"h":550},{"x":588,"y":424,"h":550},{"x":594,"y":424,"h":550},{"x":600,"y":424,"h":550},{"x":606,"y":424,"h":550},{"x":612,"y":424,"h":550},{"x":618,"y":425,"h":550},{"x":624,"y":426,"h":550},
{"x":462,"y":434,"h":580},{"x":468,"y":434,"h":580},{"x":474,"y":434,"h":580},{"x":480,"y":434,"h":580},{"x":486,"y":434,"h":580},{"x":492,"y":432,"h":580},{"x":498,"y":430,"h":580},{"x":504,"y":430,"h":580},{"x":510,"y":430,"h":580},{"x":516,"y":430,"h":580},{"x":522,"y":428,"h":580},{"x":528,"y":428,"h":580},{"x":534,"y":429,"h":580},{"x":540,"y":429,"h":580},{"x":546,"y":429,"h":580},{"x":552,"y":429,"h":580},{"x":558,"y":430,"h":580},{"x":564,"y":430,"h":580},{"x":570,"y":430,"h":580},{"x":576,"y":430,"h":580},{"x":582,"y":431,"h":580},{"x":588,"y":431,"h":580},{"x":594,"y":431,"h":580},{"x":600,"y":431,"h":580},{"x":606,"y":431,"h":580},{"x":612,"y":431,"h":580},{"x":618,"y":432,"h":580},{"x":624,"y":432,"h":580},{"x":630,"y":432,"h":580},{"x":636,"y":431,"h":580},{"x":642,"y":430,"h":580},{"x":648,"y":428,"h":580},{"x":654,"y":428,"h":580},{"x":660,"y":428,"h":580},{"x":666,"y":428,"h":580},
{"x":464,"y":440,"h":600},{"x":470,"y":440,"h":600},{"x":476,"y":440,"h":600},{"x":520,"y":434,"h":600},{"x":526,"y":434,"h":600},{"x":532,"y":435,"h":600},{"x":538,"y":435,"h":600},{"x":544,"y":435,"h":600},{"x":550,"y":435,"h":600},{"x":556,"y":436,"h":600},{"x":562,"y":436,"h":600},{"x":568,"y":436,"h":600},{"x":574,"y":437,"h":600},{"x":580,"y":437,"h":600},{"x":586,"y":437,"h":600},{"x":592,"y":437,"h":600},{"x":598,"y":438,"h":600},{"x":604,"y":438,"h":600},{"x":610,"y":438,"h":600},{"x":616,"y":438,"h":600},{"x":622,"y":438,"h":600},{"x":628,"y":438,"h":600},{"x":634,"y":437,"h":600},{"x":640,"y":436,"h":600},{"x":646,"y":434,"h":600},{"x":652,"y":434,"h":600},{"x":658,"y":434,"h":600},{"x":664,"y":434,"h":600},{"x":670,"y":434,"h":600},{"x":676,"y":436,"h":600},{"x":600,"y":444,"h":600},{"x":606,"y":444,"h":600},{"x":612,"y":444,"h":600},{"x":618,"y":444,"h":600},{"x":624,"y":444,"h":600},{"x":636,"y":443,"h":600},{"x":642,"y":442,"h":600},{"x":648,"y":440,"h":600},{"x":654,"y":440,"h":600},{"x":660,"y":440,"h":600},{"x":666,"y":440,"h":600},{"x":672,"y":441,"h":600},{"x":678,"y":442,"h":600},{"x":642,"y":448,"h":600},{"x":648,"y":447,"h":600},{"x":654,"y":447,"h":600},{"x":660,"y":447,"h":600},{"x":666,"y":446,"h":600},{"x":672,"y":447,"h":600},{"x":682,"y":448,"h":600},{"x":686,"y":454,"h":600},{"x":692,"y":460,"h":600},{"x":698,"y":464,"h":600},{"x":704,"y":468,"h":600},{"x":710,"y":473,"h":600},{"x":684,"y":462,"h":600},{"x":690,"y":466,"h":600},{"x":696,"y":470,"h":600},
{"x":807,"y":297,"h":30},{"x":813,"y":300,"h":30},{"x":807,"y":303,"h":30},{"x":813,"y":306,"h":30},{"x":807,"y":309,"h":30},{"x":813,"y":312,"h":30},{"x":807,"y":315,"h":30},{"x":813,"y":318,"h":30},{"x":807,"y":321,"h":30},{"x":813,"y":324,"h":30},{"x":807,"y":327,"h":30},{"x":813,"y":330,"h":30},{"x":803,"y":333,"h":30},{"x":809,"y":333,"h":30},{"x":803,"y":339,"h":30},{"x":809,"y":339,"h":30},{"x":806,"y":345,"h":30},{"x":812,"y":345,"h":30},{"x":800,"y":351,"h":40},{"x":806,"y":351,"h":40},{"x":812,"y":351,"h":40},{"x":797,"y":357,"h":40},{"x":803,"y":357,"h":40},{"x":809,"y":357,"h":40},{"x":815,"y":357,"h":40},{"x":800,"y":363,"h":40},{"x":806,"y":363,"h":40},{"x":812,"y":363,"h":40},{"x":797,"y":369,"h":40},{"x":803,"y":369,"h":40},{"x":809,"y":369,"h":40},{"x":815,"y":369,"h":40},{"x":800,"y":375,"h":40},{"x":806,"y":375,"h":40},{"x":812,"y":375,"h":40},{"x":797,"y":381,"h":50},{"x":803,"y":381,"h":50},{"x":809,"y":381,"h":50},{"x":815,"y":381,"h":50},{"x":800,"y":387,"h":50},{"x":806,"y":387,"h":50},{"x":812,"y":387,"h":50},{"x":803,"y":393,"h":50},{"x":809,"y":393,"h":50},{"x":815,"y":393,"h":50},{"x":806,"y":399,"h":60},{"x":812,"y":399,"h":60}]},"mark":{"type":"point","filled":true,"size":62,"opacity":0.97,"clip":true},"encoding":{"fill":{"field":"h","type":"quantitative","scale":{"scheme":"viridis","domain":[0,3500]},"legend":null},"stroke":{"field":"h","type":"quantitative","scale":{"scheme":"viridis","domain":[0,3500]},"legend":null},"strokeWidth":{"value":1}}},
{"data":{"values":[{"x":400,"y":200,"series":"point"}]},"mark":{"type":"point","filled":true,"size":0,"color":"#440154","opacity":1},"encoding":{"shape":{"field":"series","type":"nominal","scale":{"domain":["point"],"range":["circle"]},"legend":{"orient":"none","legendX":435,"legendY":7,"symbolSize":45,"labelOffset":18,"symbolOffset":6}}}}
]}]},
{"bounds":"flush","spacing":258,"resolve":{"scale":{"color":"independent"},"legend":{"color":"independent"}},"hconcat":[
{"width":132,"height":132,"view":{"stroke":"black"},"title":{"text":"LiDAR Point 2D Coordinate Graph","offset":4},"data":{"values":[{"x":70,"y":630},{"x":140,"y":630},{"x":210,"y":630},{"x":280,"y":630},{"x":350,"y":630},{"x":420,"y":630},{"x":530,"y":630},{"x":610,"y":660},{"x":-197,"y":592},{"x":-122,"y":578},{"x":70,"y":560},{"x":140,"y":560},{"x":210,"y":560},{"x":280,"y":560},{"x":350,"y":560},{"x":420,"y":560},{"x":490,"y":560},{"x":560,"y":560},{"x":620,"y":560},{"x":0,"y":490},{"x":70,"y":490},{"x":140,"y":490},{"x":210,"y":490},{"x":280,"y":490},{"x":350,"y":490},{"x":420,"y":490},{"x":490,"y":490},{"x":560,"y":490},{"x":630,"y":490},{"x":-30,"y":420},{"x":40,"y":420},{"x":110,"y":420},{"x":180,"y":420},{"x":250,"y":420},{"x":330,"y":420},{"x":400,"y":420},{"x":470,"y":420},{"x":540,"y":420},{"x":610,"y":420},{"x":670,"y":420},{"x":-90,"y":350},{"x":-20,"y":350},{"x":50,"y":350},{"x":120,"y":350},{"x":330,"y":350},{"x":400,"y":350},{"x":470,"y":350},{"x":540,"y":350},{"x":610,"y":350},{"x":670,"y":350},{"x":-90,"y":280},{"x":-20,"y":280},{"x":50,"y":280},{"x":280,"y":280},{"x":350,"y":280},{"x":420,"y":280},{"x":490,"y":280},{"x":560,"y":280},{"x":630,"y":280},{"x":-80,"y":210},{"x":-10,"y":210},{"x":50,"y":210},{"x":240,"y":210},{"x":300,"y":210},{"x":370,"y":210},{"x":440,"y":210},{"x":510,"y":210},{"x":580,"y":210},{"x":650,"y":210},{"x":-554,"y":210},{"x":-475,"y":180},{"x":-640,"y":140},{"x":-570,"y":140},{"x":-500,"y":140},{"x":-450,"y":140},{"x":-360,"y":140},{"x":-290,"y":140},{"x":-220,"y":140},{"x":-160,"y":140},{"x":-90,"y":140},{"x":-20,"y":140},{"x":50,"y":140},{"x":180,"y":140},{"x":380,"y":140},{"x":450,"y":140},{"x":520,"y":140},{"x":590,"y":140},{"x":660,"y":140},{"x":-640,"y":70},{"x":-570,"y":70},{"x":-500,"y":70},{"x":-440,"y":70},{"x":-390,"y":70},{"x":-350,"y":70},{"x":-280,"y":70},{"x":-210,"y":70},{"x":-140,"y":70},{"x":-70,"y":70},{"x":0,"y":70},{"x":70,"y":70},{"x":130,"y":70},{"x":180,"y":70},{"x":250,"y":70},{"x":320,"y":70},{"x":520,"y":70},{"x":590,"y":70},{"x":660,"y":70},{"x":-640,"y":0},{"x":-570,"y":0},{"x":-500,"y":0},{"x":-430,"y":0},{"x":-360,"y":0},{"x":-290,"y":0},{"x":-220,"y":0},{"x":-150,"y":0},{"x":-80,"y":0},{"x":-10,"y":0},{"x":60,"y":0},{"x":130,"y":0},{"x":200,"y":0},{"x":270,"y":0},{"x":340,"y":0},{"x":410,"y":0},{"x":470,"y":0},{"x":590,"y":0},{"x":640,"y":0},{"x":-640,"y":-70},{"x":-570,"y":-70},{"x":-500,"y":-70},{"x":-430,"y":-70},{"x":-360,"y":-70},{"x":-290,"y":-70},{"x":-220,"y":-70},{"x":-150,"y":-70},{"x":-80,"y":-70},{"x":-10,"y":-70},{"x":60,"y":-70},{"x":130,"y":-70},{"x":200,"y":-70},{"x":270,"y":-70},{"x":340,"y":-70},{"x":410,"y":-70},{"x":480,"y":-70},{"x":550,"y":-70},{"x":620,"y":-70},{"x":-640,"y":-140},{"x":-570,"y":-140},{"x":-500,"y":-140},{"x":-430,"y":-140},{"x":-360,"y":-140},{"x":-290,"y":-140},{"x":-220,"y":-140},{"x":-150,"y":-140},{"x":-80,"y":-140},{"x":-10,"y":-140},{"x":60,"y":-140},{"x":130,"y":-140},{"x":210,"y":-140},{"x":270,"y":-120},{"x":330,"y":-140},{"x":400,"y":-140},{"x":470,"y":-140},{"x":534,"y":-140},{"x":590,"y":-140},{"x":650,"y":-140},{"x":-640,"y":-210},{"x":-570,"y":-210},{"x":-500,"y":-210},{"x":-430,"y":-210},{"x":-360,"y":-210},{"x":-290,"y":-210},{"x":-220,"y":-210},{"x":-150,"y":-210},{"x":-80,"y":-210},{"x":-10,"y":-210},{"x":60,"y":-210},{"x":100,"y":-210},{"x":430,"y":-210},{"x":590,"y":-210},{"x":650,"y":-210},{"x":-600,"y":-280},{"x":-530,"y":-280},{"x":-460,"y":-280},{"x":-390,"y":-280},{"x":-320,"y":-280},{"x":-250,"y":-280},{"x":-180,"y":-280},{"x":-110,"y":-280},{"x":-40,"y":-280},{"x":30,"y":-280},{"x":90,"y":-280},{"x":-550,"y":-350},{"x":-480,"y":-350},{"x":-410,"y":-350},{"x":-340,"y":-350},{"x":-270,"y":-350},{"x":-200,"y":-350},{"x":-130,"y":-350},{"x":-60,"y":-350},{"x":10,"y":-350},{"x":75,"y":-350},{"x":550,"y":-330},{"x":625,"y":-367},{"x":-500,"y":-420},{"x":-430,"y":-420},{"x":-360,"y":-420},{"x":-290,"y":-420},{"x":-220,"y":-420},{"x":-150,"y":-420},{"x":-80,"y":-420},{"x":-10,"y":-420},{"x":60,"y":-420},{"x":75,"y":-420},{"x":-450,"y":-490},{"x":-380,"y":-490},{"x":-310,"y":-490},{"x":-240,"y":-490},{"x":-170,"y":-490},{"x":-100,"y":-490},{"x":-30,"y":-490},{"x":40,"y":-490},{"x":58,"y":-490},{"x":-666,"y":-476},{"x":620,"y":-510},{"x":-367,"y":-560},{"x":-300,"y":-560},{"x":-230,"y":-560},{"x":-146,"y":-560},{"x":7,"y":-560},{"x":75,"y":-560},{"x":-622,"y":-564},{"x":670,"y":-544},{"x":-231,"y":-630},{"x":-146,"y":-630},{"x":-34,"y":-630}]},"mark":{"type":"point","filled":true,"size":100,"opacity":1,"clip":true},"encoding":{"x":{"field":"x","type":"quantitative","title":"X (cm)","scale":{"domain":[-660,660],"nice":false},"axis":{"values":[-500,0,500]}},"y":{"field":"y","type":"quantitative","title":"Y (cm)","scale":{"domain":[-660,660],"nice":false},"axis":{"values":[-500,0,500]}},"color":{"datum":"point","scale":{"domain":["point","wall"],"range":["#90ee90","#0000ff"]},"legend":{"orient":"none","legendX":145,"legendY":7,"symbolOpacity":1,"symbolSize":85,"symbolOffset":6,"labelOffset":19,"rowPadding":5}}}},
{"width":404,"height":132,"view":{"stroke":"black"},"title":{"text":"Height Histogram","offset":4},"data":{"values":[{"start":0,"end":452,"count":7000,"s":"Height"},{"start":452,"end":784,"count":2220,"s":"Height"}]},"mark":{"type":"bar","clip":true},"encoding":{"x":{"field":"start","type":"quantitative","title":null,"scale":{"domain":[0,784],"nice":false},"axis":{"values":[0,100,200,300,400,500,600,700]}},"x2":{"field":"end"},"y":{"field":"count","type":"quantitative","title":null,"scale":{"domain":[0,7333],"nice":false},"axis":{"values":[0,2000,4000,6000],"format":"d"}},"y2":{"datum":0},"color":{"field":"s","type":"nominal","scale":{"domain":["Height"],"range":["#0000ff"]},"legend":{"orient":"none","legendX":301,"legendY":6,"symbolType":"M-1,-0.24H1V0.24H-1Z","symbolSize":841,"labelOffset":8}}}}
]}]}
